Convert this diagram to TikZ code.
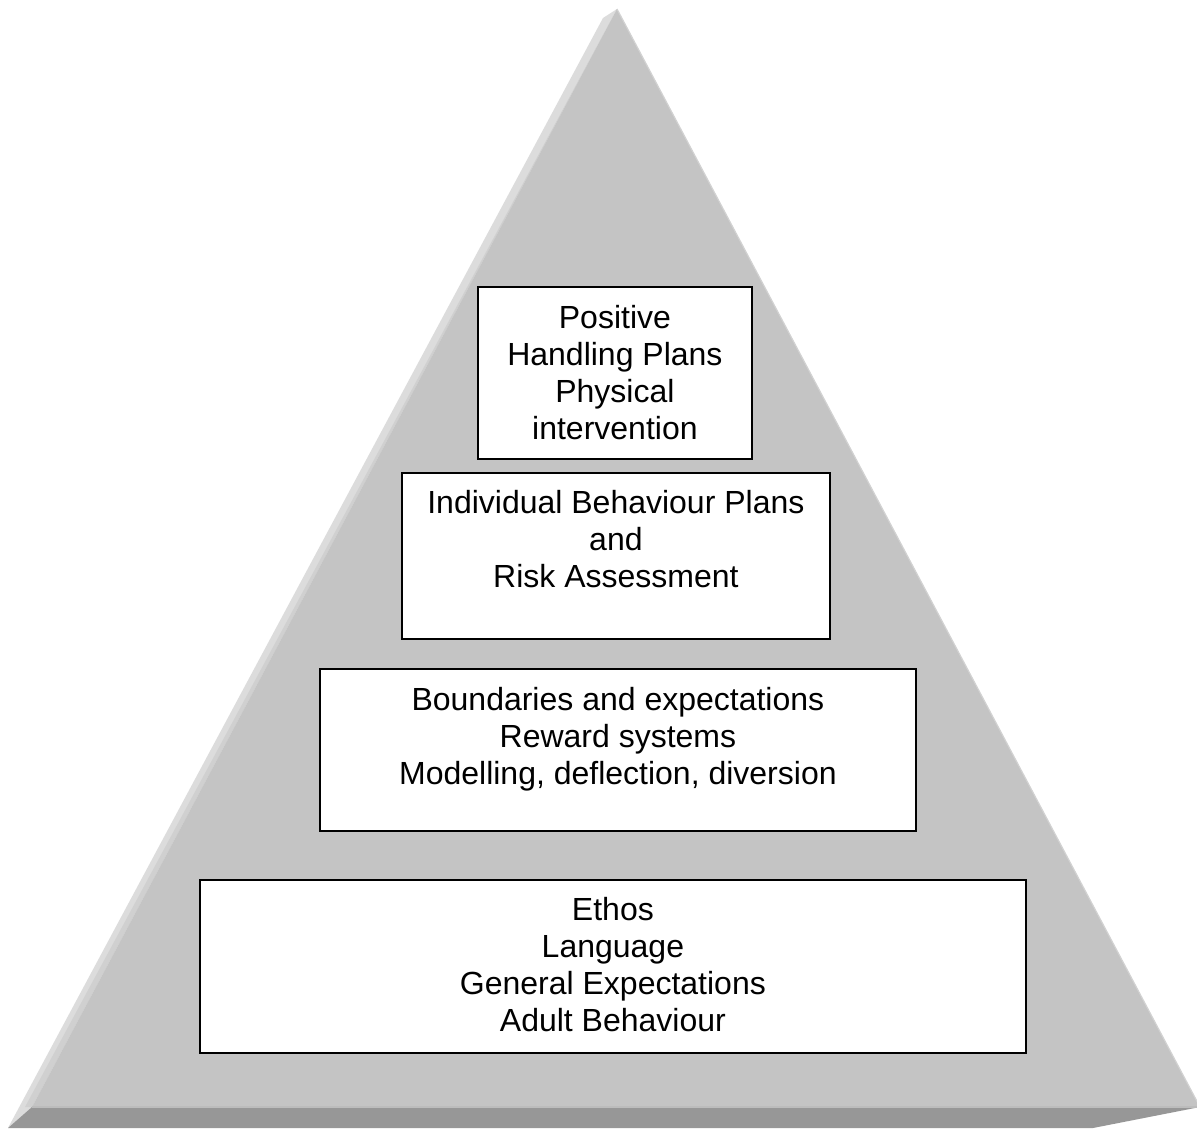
\documentclass[tikz,border=0pt]{standalone}
\usepackage{fontspec}
\setmainfont{Liberation Sans}
\definecolor{frontgray}{RGB}{196,196,196}
\definecolor{sidegray}{RGB}{220,220,220}
\definecolor{sideinner}{RGB}{208,208,208}
\definecolor{bottomgray}{RGB}{151,151,151}
\definecolor{edgegray}{RGB}{188,188,188}
\tikzset{
  tierbox/.style={draw=black, line width=1.8pt, fill=white, rectangle, inner sep=0pt, anchor=north west},
  tiertext/.style={anchor=north, inner sep=0pt, align=center, font=\fontsize{32}{37}\selectfont}
}
\begin{document}
\begin{tikzpicture}[x=1pt,y=-1pt]
\useasboundingbox (0,0) rectangle (1197,1128);
\fill[white] (0,0) rectangle (1197,1128);
% pyramid faces
\coordinate (apex) at (617,9);
\coordinate (oapex) at (603,18);
\coordinate (fl) at (32,1107);
\coordinate (fr) at (1200,1107);
\coordinate (ol) at (8,1128);
\coordinate (ob) at (1093,1128);
\fill[sidegray] (apex) -- (oapex) -- (ol) -- (fl) -- cycle;
\fill[sideinner] (apex) -- ([xshift=-7pt]fl) -- (fl) -- cycle;
\fill[bottomgray] (ol) -- (fl) -- (fr) -- (ob) -- cycle;
\fill[frontgray] (apex) -- (fl) -- (fr) -- cycle;
\draw[edgegray, line width=1.2pt] (fl) -- (fr);
\draw[sidegray!60!frontgray, line width=1.2pt] (apex) -- (fr);
% boxes
\node[tierbox, minimum width=274pt, minimum height=172pt] (b1) at (477,286) {};
\node[tierbox, minimum width=428pt, minimum height=166pt] (b2) at (401,472) {};
\node[tierbox, minimum width=596pt, minimum height=162pt] (b3) at (319,668) {};
\node[tierbox, minimum width=826pt, minimum height=173pt] (b4) at (199,879) {};
% texts
\node[tiertext] (t1) at ([yshift=-19pt]b1.north) {Positive\\Handling Plans\\Physical\\intervention};
\node[tiertext] (t2) at ([yshift=-18pt]b2.north) {Individual Behaviour Plans\\and\\Risk Assessment};
\node[tiertext] (t3) at ([yshift=-19pt]b3.north) {Boundaries and expectations\\Reward systems\\Modelling, deflection, diversion};
\node[tiertext] (t4) at ([yshift=-18pt]b4.north) {Ethos\\Language\\General Expectations\\Adult Behaviour};
\end{tikzpicture}
\end{document}
